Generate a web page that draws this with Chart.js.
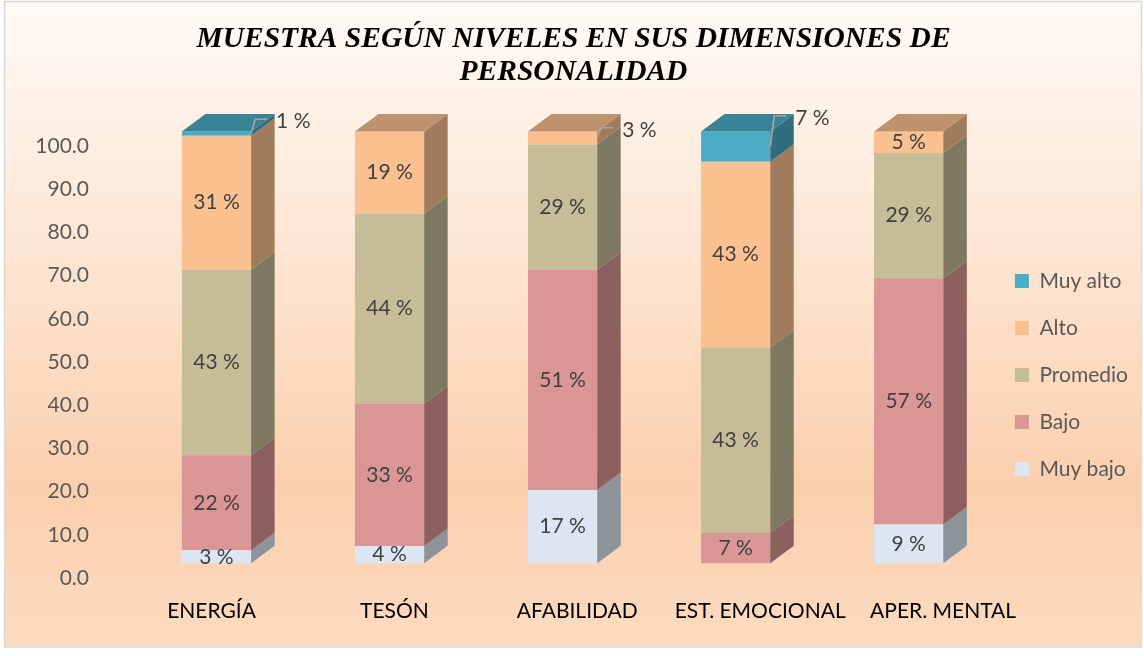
<!DOCTYPE html>
<html>
<head>
<meta charset="utf-8">
<script src="https://cdn.jsdelivr.net/npm/chart.js@4.4.1/dist/chart.umd.min.js"></script>
<style>
html,body{margin:0;padding:0;background:#ffffff;}
#wrap{width:1144px;height:656px;position:relative;}
</style>
</head>
<body>
<div id="wrap"><canvas id="c"></canvas></div>
<script>
// ---------- data ----------
const categories = ['ENERGÍA', 'TESÓN', 'AFABILIDAD', 'EST. EMOCIONAL', 'APER. MENTAL'];
const seriesNames = ['Muy bajo', 'Bajo', 'Promedio', 'Alto', 'Muy alto'];
const muyBajo  = [3, 4, 17, 0, 9];
const bajo     = [22, 33, 51, 7, 57];
const promedio = [43, 44, 29, 43, 29];
const alto     = [31, 19, 3, 43, 5];
const muyAlto  = [1, 0, 0, 7, 0];
const yTickMin = 0, yTickMax = 100, yTickStep = 10;
const titleLines = ['MUESTRA SEGÚN NIVELES EN SUS DIMENSIONES DE', 'PERSONALIDAD'];

// ---------- styles ----------
const frontColors = ['#DCE6F2', '#D99694', '#C4BD97', '#FAC090', '#4BACC6'];
const sideColors  = ['#8D939B', '#8B605F', '#7D7961', '#A07B5C', '#306E7F'];
const topColors   = ['#A7AFB8', '#A57271', '#958F73', '#BE926D', '#398396'];
const DX = 23.5, DY = 17.5;
const PAD_L = 9, PAD_R = 6;
const PLOT_LEFT = 130;
const BAR_FIRST = 216.5, BAR_STEP = 173.05;
const LABEL_FIRST = 211.5, LABEL_STEP = 182.9;
// labels of thin top segments placed beside the bar with a leader line
const outsideLabels = [
  {index: 0, dataset: 4, lift: 10},
  {index: 2, dataset: 3, lift: 1.5},
  {index: 3, dataset: 4, lift: 13.5}
];

const seriesValues = [muyBajo, bajo, promedio, alto, muyAlto];

function categoryTicks(scale) {
  scale.ticks = categories.map((_, i) => ({value: i}));
}

const indexAxisPlugin = {
  id: 'indexAxes',
  afterLayout(chart) {
    const fit = (scale, first, step) => {
      const span = scale.right - scale.left;
      scale.min = -(first - scale.left) / step;
      scale.max = scale.min + span / step;
      scale.configure();
    };
    fit(chart.scales.xb, BAR_FIRST, BAR_STEP);
    fit(chart.scales.x, LABEL_FIRST, LABEL_STEP);
  }
};

const bgPlugin = {
  id: 'bg',
  beforeDraw(chart) {
    const ctx = chart.ctx;
    ctx.save();
    ctx.fillStyle = '#ffffff';
    ctx.fillRect(0, 0, chart.width, chart.height);
    const g = ctx.createLinearGradient(0, 1, 0, 647);
    g.addColorStop(0, '#FFFAF6');
    g.addColorStop(0.45, '#FDE2CD');
    g.addColorStop(0.75, '#FBCFAD');
    g.addColorStop(1, '#FDDBC0');
    ctx.fillStyle = g;
    ctx.fillRect(4.5, 1.5, 1137, 645.5);
    ctx.strokeStyle = '#D9D9D9';
    ctx.lineWidth = 1.5;
    ctx.strokeRect(4.5, 1.5, 1137, 645.5);
    ctx.restore();
  }
};

const depthPlugin = {
  id: 'depth',
  afterDatasetsDraw(chart) {
    const ctx = chart.ctx;
    ctx.save();
    const n = categories.length;
    for (let i = 0; i < n; i++) {
      let topD = -1;
      for (let d = 0; d < seriesValues.length; d++) if (seriesValues[d][i] > 0) topD = d;
      for (let d = 0; d < seriesValues.length; d++) {
        if (!(seriesValues[d][i] > 0)) continue;
        const el = chart.getDatasetMeta(d).data[i];
        const p = el.getProps(['x', 'y', 'base', 'width'], true);
        const l = p.x - p.width / 2, r = p.x + p.width / 2;
        const t = Math.min(p.y, p.base), b = Math.max(p.y, p.base);
        ctx.fillStyle = sideColors[d];
        ctx.beginPath();
        ctx.moveTo(r, t); ctx.lineTo(r + DX, t - DY); ctx.lineTo(r + DX, b - DY); ctx.lineTo(r, b);
        ctx.closePath(); ctx.fill();
        if (d === topD) {
          ctx.fillStyle = topColors[d];
          ctx.beginPath();
          ctx.moveTo(l, t); ctx.lineTo(l + DX, t - DY); ctx.lineTo(r + DX, t - DY); ctx.lineTo(r, t);
          ctx.closePath(); ctx.fill();
        }
      }
    }
    ctx.font = '21px Lato';
    ctx.fillStyle = '#404040';
    ctx.textBaseline = 'middle';
    for (let d = 0; d < seriesValues.length; d++) {
      const meta = chart.getDatasetMeta(d);
      for (let i = 0; i < n; i++) {
        const v = seriesValues[d][i];
        if (!(v > 0)) continue;
        const p = meta.data[i].getProps(['x', 'y', 'base', 'width'], true);
        const r = p.x + p.width / 2;
        const t = Math.min(p.y, p.base), b = Math.max(p.y, p.base);
        const out = outsideLabels.find(o => o.index === i && o.dataset === d);
        const text = v + ' %';
        if (out) {
          const ty = t - out.lift;
          const midY = (t + b) / 2;
          ctx.strokeStyle = '#A6A6A6';
          ctx.lineWidth = 1.6;
          ctx.beginPath();
          ctx.moveTo(r, midY);
          ctx.lineTo(r + 4, ty - 2.3);
          ctx.lineTo(r + 16, ty - 2.3);
          ctx.stroke();
          ctx.textAlign = 'left';
          ctx.fillText(text, r + 25, ty);
        } else {
          ctx.textAlign = 'center';
          ctx.fillText(text, p.x, (t + b) / 2);
        }
      }
    }
    ctx.restore();
  }
};

const datasets = seriesNames.map((name, d) => ({
  label: name,
  data: seriesValues[d].map((v, i) => ({x: i, y: v})),
  backgroundColor: frontColors[d],
  borderWidth: 0,
  xAxisID: 'xb',
  yAxisID: 'yb',
  barPercentage: 0.4,
  categoryPercentage: 1.0,
  clip: false
}));

new Chart(document.getElementById('c'), {
  type: 'bar',
  data: {datasets},
  plugins: [indexAxisPlugin, bgPlugin, depthPlugin],
  options: {
    responsive: true,
    maintainAspectRatio: false,
    animation: false,
    layout: {padding: {left: PAD_L, right: PAD_R, top: 0, bottom: 0}},
    plugins: {
      tooltip: {enabled: false},
      title: {
        display: true,
        text: titleLines,
        color: '#000000',
        font: {family: 'Liberation Serif', size: 29.5, weight: 'bold', style: 'italic', lineHeight: 1.14},
        padding: {top: 22.2, bottom: 56.7}
      },
      legend: {
        position: 'right',
        fullSize: false,
        reverse: true,
        title: {display: true, text: '', padding: 0, font: {size: 13, lineHeight: 2}},
        labels: {
          boxWidth: 14, boxHeight: 14, padding: 26,
          color: '#595959',
          font: {family: 'Lato', size: 21}
        }
      }
    },
    scales: {
      x: {
        type: 'linear',
        position: 'bottom',
        min: -0.5, max: categories.length - 0.5,
        offset: false,
        grid: {display: false, drawTicks: false, offset: false},
        border: {display: false},
        afterBuildTicks: categoryTicks,
        afterFit: (s) => { s.height = 78; },
        ticks: {
          autoSkip: false, maxRotation: 0, minRotation: 0, padding: 21,
          color: '#000000',
          font: {family: 'Lato', size: 21},
          callback: (v) => categories[v]
        }
      },
      xb: {
        type: 'linear',
        display: false,
        min: -0.5, max: categories.length - 0.5,
        offset: false,
        grid: {offset: false},
        stacked: true,
        afterBuildTicks: categoryTicks
      },
      y: {
        type: 'linear',
        position: 'left',
        min: yTickMin, max: yTickMax,
        grid: {display: false, drawTicks: false},
        border: {display: false},
        afterFit: (s) => { s.width = PLOT_LEFT - PAD_L; },
        ticks: {
          stepSize: yTickStep, padding: 41,
          color: '#595959',
          font: {family: 'Lato', size: 21},
          callback: (v) => Number(v).toFixed(1)
        }
      },
      yb: {
        type: 'linear',
        display: false,
        stacked: true,
        min: -3.4, max: 96.6
      }
    }
  }
});
</script>
</body>
</html>
